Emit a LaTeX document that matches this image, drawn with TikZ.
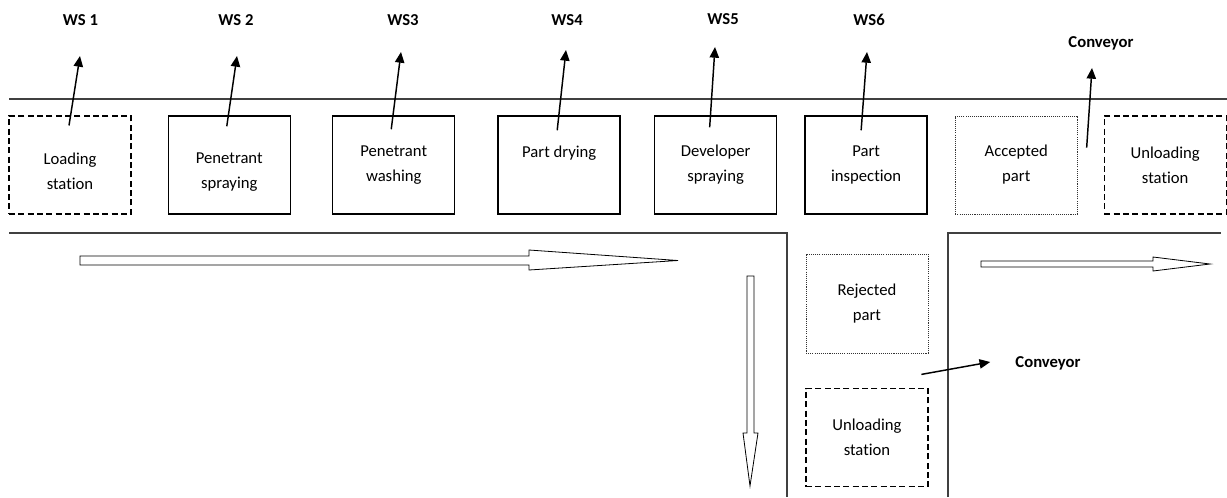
\documentclass[tikz,border=0pt]{standalone}
\usepackage{fontspec}
\setmainfont{Carlito}[Ligatures=NoCommon]
\usetikzlibrary{positioning, arrows.meta}
\begin{document}
\begin{tikzpicture}[x=0.75pt, y=-0.75pt,
  font=\fontsize{12.5}{18.75}\selectfont, >={Triangle[length=8pt,width=7pt]},
  ws/.style  ={draw, line width=1.1pt, align=center, minimum width=91.5pt, minimum height=73.5pt, inner sep=0pt},
  dock/.style={ws, line width=0.8pt, dash pattern=on 4.5pt off 2.5pt},
  part/.style={ws, line width=0.6pt, dash pattern=on 0.8pt off 0.8pt, draw=black!80},
  tag/.style ={font=\fontsize{12.5}{15}\selectfont\bfseries, inner sep=0pt},
  ptr/.style ={->, line width=1.1pt},
  wall/.style={draw=black!75, line width=0.8pt},
  flow/.style={draw, line width=0.6pt, fill=white, line join=miter}]
\useasboundingbox (0,0) rectangle (1227,497);
\draw[wall] (9,99) -- (1227,99);
\draw[wall] (9,233) -- (787,233) -- (787,497);
\draw[wall] (948,497) -- (948,233) -- (1221,233);
\node[dock, text height=37pt] (load) at (70,165) {Loading\\station};
\node[ws, right=27pt of load, text height=37pt] (spray) {Penetrant\\spraying};
\node[ws, right=30.75pt of spray] (wash)  {Penetrant\\washing};
\node[ws, right=31.5pt of wash, text depth=20pt] (dry) {Part drying};
\node[ws, right=24.75pt of dry]  (dev)   {Developer\\spraying};
\node[ws, right=20.25pt of dev]  (insp)  {Part\\inspection};
\node[part, right=20.25pt of insp] (acc) {Accepted\\part};
\node[dock, right=19.5pt of acc] (unl)   {Unloading\\station};
\node[part, minimum height=74.25pt] (rej) at (867,303.5) {Rejected\\part};
\node[dock, below=26pt of rej]   (unl2)  {Unloading\\station};
\node[tag] (ws1) at (80.5,20) {WS 1};
\node[tag] (ws2) at (236,20)  {WS 2};
\node[tag] (ws3) at (403,20)  {WS3};
\node[tag] (ws4) at (567,20)  {WS4};
\node[tag] (ws5) at (723,19)  {WS5};
\node[tag] (ws6) at (869,20)  {WS6};
\node[tag] (conv1) at (1101,43) {Conveyor};
\node[tag] (conv2) at (1048,363) {Conveyor};
\draw[ptr] ([shift={(-1,10)}]load.north) -- ([shift={(-0.5,36)}]ws1.center);
\draw[ptr] ([shift={(-2.5,11)}]spray.north) -- ([shift={(1,36)}]ws2.center);
\draw[ptr] ([shift={(-2.5,14)}]wash.north) -- ([shift={(-2,32)}]ws3.center);
\draw[ptr] ([shift={(-2,15)}]dry.north) -- ([shift={(-1,30)}]ws4.center);
\draw[ptr] ([shift={(-6,12)}]dev.north) -- ([shift={(-8,28)}]ws5.center);
\draw[ptr] ([shift={(-5,15)}]insp.north) -- ([shift={(-2,32)}]ws6.center);
\draw[ptr] ([shift={(9,32)}]acc.north east) -- ([shift={(-9,25)}]conv1.center);
\draw[ptr] ([shift={(-7,21)}]rej.south east) -- ([shift={(-25,-1)}]conv2.west);
\draw[flow] (80,256) -- (529,256) -- (529,250) -- (678,260.5) -- (529,270) -- (529,265) -- (80,265) -- cycle;
\draw[flow] (747,276) -- (754,276) -- (754,433) -- (758,433) -- (750,486) -- (743,433) -- (747,433) -- cycle;
\draw[flow] (981,261) -- (1153,261) -- (1153,257) -- (1210,264) -- (1153,271) -- (1153,267) -- (981,267) -- cycle;
\end{tikzpicture}
\end{document}
